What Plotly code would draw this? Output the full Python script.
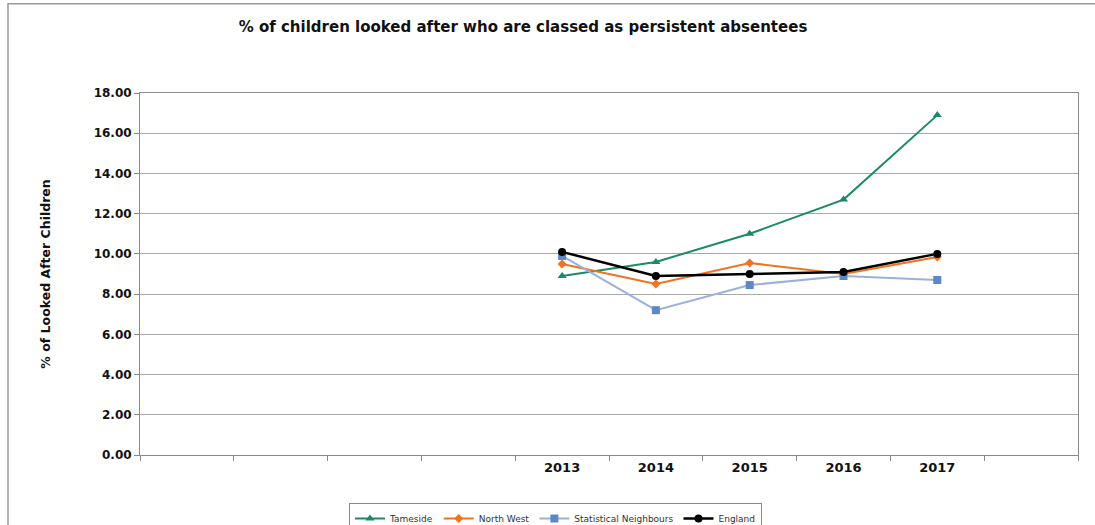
import plotly.graph_objects as go

# Category slots: four empty slots before the data years and one after
blank_slots = [" ", "  ", "   ", "    "]
years = ["2013", "2014", "2015", "2016", "2017"]
trailing_slot = ["     "]

tameside = [8.9, 9.6, 11.0, 12.7, 16.9]
north_west = [9.5, 8.5, 9.55, 9.0, 9.85]
stat_neighbours = [9.9, 7.2, 8.45, 8.9, 8.7]
england = [10.1, 8.9, 9.0, 9.1, 10.0]

y_ticks = [0, 2, 4, 6, 8, 10, 12, 14, 16, 18]
y_tick_labels = [f"{v:.2f}" for v in y_ticks]

fig = go.Figure()

fig.add_trace(go.Scatter(
    x=years, y=tameside, name="Tameside", mode="lines+markers",
    line=dict(color="#1b8a6b", width=2),
    marker=dict(symbol="triangle-up", size=8, color="#1b8a6b"),
))
fig.add_trace(go.Scatter(
    x=years, y=north_west, name="North West", mode="lines+markers",
    line=dict(color="#f07322", width=2),
    marker=dict(symbol="diamond", size=7, color="#f07322"),
))
fig.add_trace(go.Scatter(
    x=years, y=stat_neighbours, name="Statistical Neighbours", mode="lines+markers",
    line=dict(color="#9db0da", width=2),
    marker=dict(symbol="square", size=8, color="#5b88c6"),
))
fig.add_trace(go.Scatter(
    x=years, y=england, name="England", mode="lines+markers",
    line=dict(color="#000000", width=2.5),
    marker=dict(symbol="circle", size=8, color="#000000"),
))

fig.update_layout(
    width=1095, height=525,
    margin=dict(l=140, r=17, t=93, b=70),
    paper_bgcolor="white", plot_bgcolor="white",
    font=dict(family="DejaVu Sans", color="#222222"),
    title=dict(
        text="<b>% of children looked after who are classed as persistent absentees</b>",
        x=523 / 1095, xanchor="center", y=1 - 27 / 525, yanchor="middle",
        font=dict(size=15, color="#111111"),
    ),
    xaxis=dict(
        type="category",
        categoryorder="array",
        categoryarray=blank_slots + years + trailing_slot,
        range=[-0.5, 9.5],
        tickson="boundaries",
        ticks="outside", ticklen=5, tickcolor="#888888",
        showgrid=False,
        showline=True, linecolor="#8a8a8a", linewidth=1, mirror=True,
        tickfont=dict(size=13, color="#111111", family="DejaVu Sans"),
        tickprefix="<b>", ticksuffix="</b>",
        fixedrange=True,
    ),
    yaxis=dict(
        range=[0, 18],
        tickvals=y_ticks, ticktext=[f"<b>{t}</b>" for t in y_tick_labels],
        ticks="outside", ticklen=5, tickcolor="#888888",
        showgrid=True, gridcolor="#a8a8a8", gridwidth=1,
        showline=True, linecolor="#8a8a8a", linewidth=1, mirror=True,
        zeroline=False,
        tickfont=dict(size=12, color="#111111", family="DejaVu Sans"),
        title=dict(text="<b>% of Looked After Children</b>", standoff=40,
                   font=dict(size=12.5, color="#111111")),
    ),
    legend=dict(
        orientation="h",
        xref="container", yref="container",
        x=349 / 1095, xanchor="left",
        y=1 - 503 / 525, yanchor="top",
        bordercolor="#8a8a8a", borderwidth=1,
        font=dict(size=9, color="#333333", family="DejaVu Sans"),
        itemwidth=30,
        tracegroupgap=0,
    ),
    showlegend=True,
)

# Outer chart frame
fig.add_shape(
    type="rect", xref="paper", yref="paper",
    x0=-132 / 938, x1=(1095 - 140 + 20) / 938, y0=-0.3, y1=(455.7 - 4) / 362.4,
    line=dict(color="#9a9a9a", width=1.5), fillcolor="rgba(0,0,0,0)",
    layer="below",
)

fig.write_html("out.html")
